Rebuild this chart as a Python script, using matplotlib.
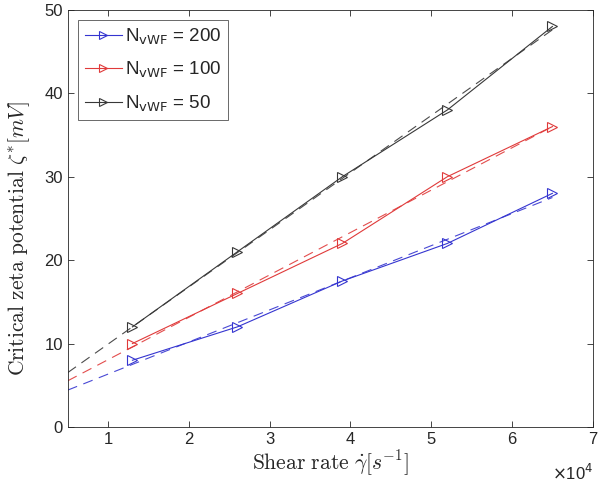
import matplotlib
matplotlib.use("Agg")
import matplotlib.pyplot as plt
import numpy as np

# shear rate in units of 1e4 s^-1
shear_rate = np.array([1.3, 2.6, 3.9, 5.2, 6.5])
zeta_200 = [8, 12, 17.5, 22, 28]
zeta_100 = [10, 16, 22, 30, 36]
zeta_50 = [12, 21, 30, 38, 48]

series = [
    ("200", zeta_200, "#3535d0"),
    ("100", zeta_100, "#e03a3a"),
    ("50", zeta_50, "#383838"),
]

plt.rcParams["font.family"] = ["Liberation Sans", "DejaVu Sans"]
plt.rcParams["mathtext.fontset"] = "cm"

fig = plt.figure(figsize=(6, 4.88), dpi=100)
ax = fig.add_axes([0.113, 0.125, 0.875, 0.855])

fit_x = np.array([0.5, 6.5])
for n, vals, color in series:
    ax.plot(shear_rate, vals, color=color, lw=0.8, marker=">",
            markersize=7, markerfacecolor="none", markeredgewidth=0.8,
            label=rf"N$_{{\rm vWF}}$ = {n}")
    slope, icpt = np.polyfit(shear_rate, vals, 1)
    ax.plot(fit_x, slope * fit_x + icpt, color=color, lw=0.8,
            dashes=(9, 6), alpha=0.9)

ax.set_xlim(0.5, 7)
ax.set_ylim(0, 50)
ax.set_xticks(range(1, 8))
ax.set_yticks(range(0, 51, 10))
ax.tick_params(direction="in", top=True, right=True, labelsize=12,
               colors="#262626", length=4, width=0.6)
for sp in ax.spines.values():
    sp.set_linewidth(0.6)
    sp.set_color("#262626")

ax.set_xlabel(r"$\mathrm{Shear\ rate}\ \dot{\gamma}[s^{-1}]$", fontsize=15.5,
              color="#262626", labelpad=1)
ax.set_ylabel(r"$\mathrm{Critical\ zeta\ potential}\ \zeta^{*}[mV]$",
              fontsize=15.5, color="#262626")
ax.yaxis.set_label_coords(-0.068, 0.453)

ax.text(1.0, -0.085, r"$\times$10$^4$", transform=ax.transAxes, ha="right",
        va="top", fontsize=12, color="#262626", math_fontfamily="dejavusans")

leg = ax.legend(loc="upper left", fontsize=13.5, frameon=True, fancybox=False,
                edgecolor="#262626", handlelength=2.0, handletextpad=0.15,
                borderpad=0.35, labelspacing=0.7, markerscale=0.75,
                borderaxespad=0.55)
leg.get_frame().set_linewidth(0.6)
for t in leg.get_texts():
    t.set_math_fontfamily("dejavusans")
    t.set_color("#262626")

fig.savefig("out.png", dpi=100)
